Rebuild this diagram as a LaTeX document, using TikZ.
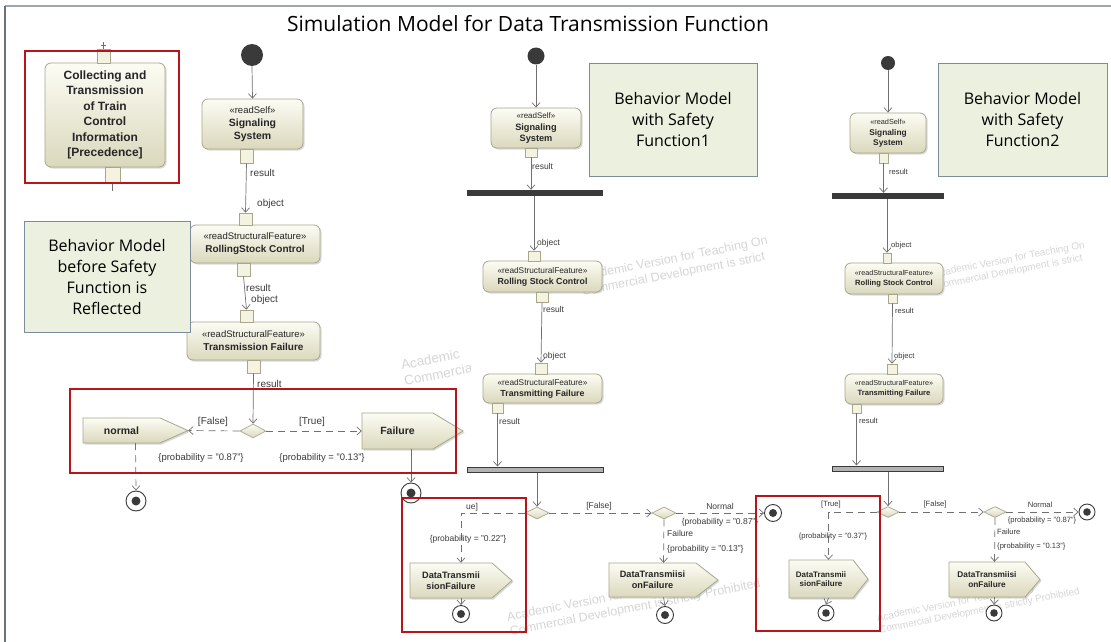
\documentclass[tikz,border=0pt]{standalone}
\usepackage{fontspec}
\setmainfont{Liberation Sans}
\newfontfamily\titlefont{Open Sans}
\usetikzlibrary{arrows.meta,shadows,shapes.geometric}
\definecolor{actA}{HTML}{FCFCF4}
\definecolor{actB}{HTML}{DAD8BC}
\definecolor{actdraw}{HTML}{A8A78C}
\definecolor{pinfill}{HTML}{F4F3E2}
\definecolor{edgec}{HTML}{707070}
\definecolor{redbox}{HTML}{B8141A}
\definecolor{greenfill}{HTML}{EBF1DE}
\definecolor{greendraw}{HTML}{7D8C9C}
\definecolor{wmc}{HTML}{D6D6D6}
\definecolor{frametop}{HTML}{A0A6AE}
\definecolor{frameleft}{HTML}{69737E}
\definecolor{dark}{HTML}{3A3A3A}
\newcommand\fsz[1]{\fontsize{#1}{\dimexpr#1pt*6/5\relax}\selectfont}
\tikzset{
 act/.style={rectangle, rounded corners=6pt, draw=actdraw, line width=0.8pt, top color=actA, bottom color=actB, align=center, inner sep=0pt, text=black!85, drop shadow={opacity=0.3, shadow xshift=1.5pt, shadow yshift=-1.5pt}},
 pinbox/.style={rectangle, draw=actdraw, line width=0.6pt, fill=pinfill, inner sep=0pt},
 initnode/.style={circle, fill=dark, inner sep=0pt},
 finalnode/.style={circle, draw=dark, line width=0.9pt, fill=white, inner sep=0pt, path picture={\fill[dark] (path picture bounding box.center) circle[radius=#1];}},
 decision/.style={diamond, draw=actdraw, line width=0.7pt, top color=actA, bottom color=actB, inner sep=0pt},
 forkbar/.style={rectangle, fill=dark, inner sep=0pt},
 joinbar/.style={rectangle, fill=gray!60, draw=dark, line width=1pt, inner sep=0pt},
 flow/.style={draw=edgec, line width=0.7pt, -{Straight Barb[length=4.5pt,width=8pt]}},
 dflow/.style={flow, dash pattern=on 7pt off 5pt},
 plain/.style={draw=edgec, line width=0.7pt},
 lbl/.style={text=dark, inner sep=1pt},
 redframe/.style={draw=redbox, line width=2.6pt, inner sep=0pt},
 greenbox/.style={draw=greendraw, fill=greenfill, line width=0.8pt, align=center, inner sep=0pt, font=\titlefont\fontsize{16}{21}\selectfont},
 wm/.style={text=wmc, align=left, rotate=11, inner sep=0pt},
}
\newcommand\sigact[8]{%
  \path[draw=actdraw, line width=0.8pt, top color=actA, bottom color=actB, drop shadow={opacity=0.3,shadow xshift=1.5pt,shadow yshift=-1.5pt}]
    (#2,#3) -- ({#4-#6},#3) -- (#4,{(#3+#5)/2}) -- ({#4-#6},#5) -- (#2,#5) -- cycle;
  \node[inner sep=0pt, minimum width={(#4-#2)*1pt}, minimum height={(#5-#3)*1pt}] (#1) at ({(#2+#4)/2},{(#3+#5)/2}) {};
  \node[font=\bfseries\fsz{#7}, align=center, inner sep=0pt, text=black!85] at ({(#2+#4-#6)/2},{(#3+#5)/2}) {#8};
}
\newcommand\wmtext{Academic Version for Teaching Only\\Commercial Development is strictly Prohibited}
\begin{document}
\begin{tikzpicture}[x=1pt,y=-1pt]
\useasboundingbox (0,0) rectangle (1111,642);
\fill[white] (0,0) rectangle (1111,642);
% frame
\draw[frametop, line width=2pt] (5,6) -- (1111,6);
\draw[frameleft, line width=1.5pt] (5,6) -- (5,642);
% title
\node[font=\titlefont\fsz{21}] (title) at (528,24) {Simulation Model for Data Transmission Function};

% watermarks (only the parts the picture shows)
\begin{scope}\clip (398,340) rectangle (470,400);
\node[wm, anchor=north west, font=\fsz{13.5}] (wmA) at (400,360) {Academic\\Commercial};\end{scope}
\begin{scope}\clip (480,228) rectangle (792,312);
\node[wm, anchor=north west, font=\fsz{12.5}] (wmB) at (578,272) {Academic Version for Teaching On\\Commercial Development is strict};\end{scope}
\node[wm, anchor=north west, font=\fsz{10}] (wmC) at (933,270) {Academic Version for Teaching On\\Commercial Development is strict};
\begin{scope}\clip (500,540) rectangle (795,642);
\node[wm, anchor=north west, font=\fsz{12.5}] (wmD) at (506,612) {\wmtext};\end{scope}
\node[wm, anchor=north west, font=\fsz{10}] (wmE) at (876,614) {\wmtext};

% ================= LEFT COLUMN =================
\node[act, minimum width=120pt, minimum height=104pt, font=\bfseries\fontsize{12}{15.5}\selectfont] (coll) at (105,115) {Collecting and\\Transmission\\of Train\\Control\\Information\\{[Precedence]}};
\node[pinbox, minimum width=13pt, minimum height=14pt] (collt) at (103.5,56) {};
\node[pinbox, minimum width=15pt, minimum height=15pt] (collb) at (112.5,174.5) {};
\coordinate (collin) at (103.5,42);
\coordinate (collout) at (112.5,191);
\draw[plain] (collin) -- (collt.north);
\draw[plain] (101,45) -- (106,45);
\draw[plain] (collb.south) -- (collout);

\node[initnode, minimum size=22pt] (init1) at (252,55) {};
\node[act, minimum width=101pt, minimum height=50pt, font=\bfseries\fsz{10.5}] (ss1) at (252.5,124) {\mdseries\fsz{9.5}«readSelf»\\[1pt]Signaling\\System};
\node[pinbox, minimum width=13pt, minimum height=14pt] (ss1p) at (246.5,156) {};
\node[act, minimum width=130pt, minimum height=38pt, font=\bfseries\fsz{10}] (rs1) at (255,244) {\mdseries\fsz{9.5}«readStructuralFeature»\\[1pt]RollingStock Control};
\node[pinbox, minimum width=13pt, minimum height=12pt] (rs1t) at (245.5,219) {};
\node[pinbox, minimum width=13pt, minimum height=13pt] (rs1b) at (243.5,269.5) {};
\node[act, minimum width=133pt, minimum height=38pt, font=\bfseries\fsz{10}] (tf1) at (253.5,341) {\mdseries\fsz{9.5}«readStructuralFeature»\\[1pt]Transmission Failure};
\node[pinbox, minimum width=13pt, minimum height=12pt] (tf1t) at (246.5,316) {};
\node[pinbox, minimum width=13pt, minimum height=13pt] (tf1b) at (253.5,366.5) {};
\node[decision, minimum width=26pt, minimum height=14pt] (d1) at (253,431) {};
\sigact{norm}{83}{418}{188}{443}{28}{10.5}{normal}
\sigact{fail}{362}{413}{463}{449}{30}{10.5}{Failure}
\node[finalnode=4.5pt, minimum size=20pt] (f1) at (136,501) {};
\node[finalnode=4.5pt, minimum size=20pt] (f2) at (411,493) {};

\draw[flow] (init1.south) -- (ss1.north);
\draw[flow] (ss1p.south) -- (rs1t.north);
\draw[flow] (rs1b.south) -- (tf1t.north);
\draw[flow] (tf1b.south) -- (d1.north);
\draw[dflow] (d1.west) -- (norm.east);
\draw[dflow] (d1.east) -- (fail.west);
\draw[dflow] (norm.south) -- (f1.north);
\draw[flow] (fail.south -| f2) -- (f2.north);

\node[lbl, anchor=west, font=\fsz{10}] at (249,173) {result};
\node[lbl, anchor=west, font=\fsz{10}] at (256,204) {object};
\node[lbl, anchor=west, font=\fsz{10}] at (245,288) {result};
\node[lbl, anchor=west, font=\fsz{10}] at (250,300) {object};
\node[lbl, anchor=west, font=\fsz{10}] at (256,384) {result};
\node[lbl, font=\fsz{10}] at (213,422) {[False]};
\node[lbl, font=\fsz{10}] at (312,422) {[True]};
\node[lbl, font=\fsz{9.5}] at (201,458) {\{probability = "0.87"\}};
\node[lbl, font=\fsz{9.5}] at (322,458) {\{probability = "0.13"\}};

\node[greenbox, minimum width=166pt, minimum height=111pt] (g1) at (107,276.5) {Behavior Model\\before Safety\\Function is\\Reflected};

% ================= MIDDLE COLUMN =================
\node[initnode, minimum size=17pt] (init2) at (536,56) {};
\node[act, minimum width=90pt, minimum height=40pt, font=\bfseries\fsz{9.2}] (ss2) at (536,128) {\mdseries\fsz{8}«readSelf»\\[1pt]Signaling\\System};
\node[pinbox, minimum width=12pt, minimum height=9pt] (ss2p) at (531,152.5) {};
\node[forkbar, minimum width=136pt, minimum height=6pt] (bar2) at (535,193) {};
\node[act, minimum width=119pt, minimum height=31pt, font=\bfseries\fsz{8.8}] (rs2) at (542.5,276.5) {\mdseries\fsz{8.3}«readStructuralFeature»\\[0.5pt]Rolling Stock Control};
\node[pinbox, minimum width=12pt, minimum height=10pt] (rs2t) at (534,256) {};
\node[pinbox, minimum width=12pt, minimum height=10pt] (rs2b) at (542,297) {};
\node[act, minimum width=119pt, minimum height=29pt, font=\bfseries\fsz{8.8}] (tf2) at (542.5,388.5) {\mdseries\fsz{8.3}«readStructuralFeature»\\[0.5pt]Transmitting Failure};
\node[pinbox, minimum width=12pt, minimum height=11pt] (tf2t) at (541,368.5) {};
\node[pinbox, minimum width=11pt, minimum height=10pt] (tf2b) at (497.5,408) {};
\node[joinbar, minimum width=136pt, minimum height=5pt] (jb2) at (535,469.5) {};
\node[decision, minimum width=24pt, minimum height=12pt] (d2) at (537,513) {};
\node[decision, minimum width=24pt, minimum height=12pt] (d3) at (664,513) {};
\sigact{dtf1}{410}{563}{512}{598}{20}{9.2}{DataTransmii\\sionFailure}
\sigact{dtf2}{609}{563}{718}{597}{22}{9.2}{DataTransmiisi\\onFailure}
\node[finalnode=4pt, minimum size=17pt] (f3) at (461,614) {};
\node[finalnode=4pt, minimum size=17pt] (f4) at (773,513) {};
\node[finalnode=4pt, minimum size=17pt] (f5) at (665,615) {};

\draw[flow] (init2.south) -- (ss2.north);
\draw[flow] (ss2p.south) -- (ss2p.south |- bar2.north);
\draw[flow] (bar2.south -| rs2t) -- (rs2t.north);
\draw[flow] (rs2b.south) -- (tf2t.north);
\draw[flow] (tf2b.south) -- (tf2b.south |- jb2.north);
\draw[flow] (jb2.south -| d2) -- (d2.north);
\draw[dflow] (d2.west) -| (dtf1.north);
\draw[flow] (dtf1.south) -- (f3.north);
\draw[dflow] (d2.east) -- (d3.west);
\draw[dflow] (d3.east) -- (f4.west);
\draw[dflow] (d3.south) -- (dtf2.north);
\draw[flow] (dtf2.south) -- (f5.north);

\node[lbl, anchor=west, font=\fsz{8.5}] at (531,166) {result};
\node[lbl, anchor=west, font=\fsz{8.5}] at (536,243) {object};
\node[lbl, anchor=west, font=\fsz{8.5}] at (542,309) {result};
\node[lbl, anchor=west, font=\fsz{8.5}] at (542,356) {object};
\node[lbl, anchor=west, font=\fsz{8.5}] at (498,421) {result};
\node[lbl, font=\fsz{8.5}] at (472,507) {ue]};
\node[lbl, font=\fsz{8.5}] at (468,539) {\{probability = "0.22"\}};
\node[lbl, font=\fsz{8.5}] at (599,506) {[False]};
\node[lbl, font=\fsz{8.5}] at (720,506) {Normal};
\node[lbl, font=\fsz{8.5}] at (720,522) {\{probability = "0.87"\}};
\node[lbl, anchor=west, font=\fsz{8.5}] at (666,533) {Failure};
\node[lbl, anchor=west, font=\fsz{8.5}] at (666,549) {\{probability = "0.13"\}};

\node[greenbox, minimum width=168pt, minimum height=113pt] (g2) at (673,119.5) {Behavior Model\\with Safety\\Function1};

% ================= RIGHT COLUMN =================
\node[initnode, minimum size=14pt] (init3) at (888,63) {};
\node[act, minimum width=76pt, minimum height=40pt, font=\bfseries\fsz{8.3}] (ss3) at (888,133) {\mdseries\fsz{7.3}«readSelf»\\[1pt]Signaling\\System};
\node[pinbox, minimum width=9pt, minimum height=10pt] (ss3p) at (883.5,158) {};
\node[forkbar, minimum width=112pt, minimum height=6pt] (bar3) at (888,196) {};
\node[act, minimum width=98pt, minimum height=31pt, font=\bfseries\fsz{7.6}] (rs3) at (894,278.5) {\mdseries\fsz{7.2}«readStructuralFeature»\\[0.5pt]Rolling Stock Control};
\node[pinbox, minimum width=8pt, minimum height=10pt] (rs3t) at (887,258) {};
\node[pinbox, minimum width=9pt, minimum height=9pt] (rs3b) at (892.5,298.5) {};
\node[act, minimum width=98pt, minimum height=30pt, font=\bfseries\fsz{7.6}] (tf3) at (894,389) {\mdseries\fsz{7.2}«readStructuralFeature»\\[0.5pt]Transmitting Failure};
\node[pinbox, minimum width=10pt, minimum height=10pt] (tf3t) at (892,369) {};
\node[pinbox, minimum width=9pt, minimum height=9pt] (tf3b) at (856.5,408.5) {};
\node[joinbar, minimum width=111pt, minimum height=5pt] (jb3) at (887.5,468.5) {};
\node[decision, minimum width=22pt, minimum height=11pt] (d4) at (888,512) {};
\node[decision, minimum width=22pt, minimum height=11pt] (d5) at (995,512) {};
\sigact{dtf3}{789}{560}{868}{598}{15}{8}{DataTransmii\\sionFailure}
\sigact{dtf4}{949}{562}{1040}{597}{15}{8.3}{DataTransmiisi\\onFailure}
\node[finalnode=3.8pt, minimum size=16pt] (f6) at (826,613) {};
\node[finalnode=3.8pt, minimum size=16pt] (f7) at (1087,512) {};
\node[finalnode=3.8pt, minimum size=16pt] (f8) at (994,613) {};

\draw[flow] (init3.south) -- (ss3.north);
\draw[flow] (ss3p.south) -- (ss3p.south |- bar3.north);
\draw[flow] (bar3.south -| rs3t) -- (rs3t.north);
\draw[flow] (rs3b.south) -- (tf3t.north);
\draw[flow] (tf3b.south) -- (tf3b.south |- jb3.north);
\draw[flow] (jb3.south -| d4) -- (d4.north);
\draw[dflow] (d4.west) -| (dtf3.north);
\draw[flow] (dtf3.south) -- (f6.north);
\draw[dflow] (d4.east) -- (d5.west);
\draw[dflow] (d5.east) -- (f7.west);
\draw[dflow] (d5.south) -- (dtf4.north);
\draw[flow] (dtf4.south) -- (f8.north);

\node[lbl, anchor=west, font=\fsz{7.6}] at (888,172) {result};
\node[lbl, anchor=west, font=\fsz{7.6}] at (890,246) {object};
\node[lbl, anchor=west, font=\fsz{7.6}] at (894,311) {result};
\node[lbl, anchor=west, font=\fsz{7.6}] at (893,357) {object};
\node[lbl, anchor=west, font=\fsz{7.6}] at (858,421) {result};
\node[lbl, font=\fsz{7.6}] at (831,505) {[True]};
\node[lbl, font=\fsz{7.6}] at (833,537) {\{probability = "0.37"\}};
\node[lbl, font=\fsz{7.6}] at (935,505) {[False]};
\node[lbl, font=\fsz{7.6}] at (1040,505) {Normal};
\node[lbl, font=\fsz{7.6}] at (1042,521) {\{probability = "0.87"\}};
\node[lbl, anchor=west, font=\fsz{7.6}] at (996,532) {Failure};
\node[lbl, anchor=west, font=\fsz{7.6}] at (996,547) {\{probability = "0.13"\}};

\node[greenbox, minimum width=169pt, minimum height=113pt] (g3) at (1022.5,119.5) {Behavior Model\\with Safety\\Function2};

% ================= RED HIGHLIGHT FRAMES =================
\node[redframe, minimum width=154pt, minimum height=132pt] (rb1) at (102,117) {};
\node[redframe, minimum width=386pt, minimum height=84pt] (rb2) at (263,431) {};
\node[redframe, minimum width=124pt, minimum height=134pt] (rb3) at (464,565) {};
\node[redframe, minimum width=124pt, minimum height=135pt] (rb4) at (818,563.5) {};
\end{tikzpicture}
\end{document}
